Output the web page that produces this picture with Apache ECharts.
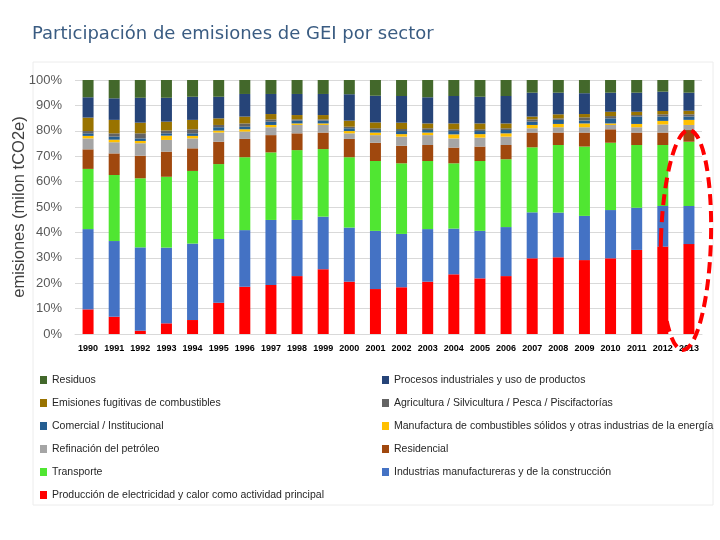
<!DOCTYPE html>
<html>
<head>
<meta charset="utf-8">
<script src="https://cdn.jsdelivr.net/npm/echarts@6/dist/echarts.min.js"></script>
<style>html,body{margin:0;padding:0;background:#fff;}#c{width:720px;height:540px;}</style>
</head>
<body>
<div id="c"></div>
<script>
var years = ['1990','1991','1992','1993','1994','1995','1996','1997','1998','1999','2000','2001','2002','2003','2004','2005','2006','2007','2008','2009','2010','2011','2012','2013'];
var yTicks = [0,10,20,30,40,50,60,70,80,90,100];

// Segment shares (%) per year, bottom to top of each stack
var produccion   = [9.7,6.8,1.3,4.2,5.5,12.3,18.6,19.3,22.8,25.5,20.6,17.7,18.4,20.6,23.5,21.9,22.8,29.8,30.2,29.1,29.8,33.1,34.4,35.4];
var industrias   = [31.6,29.8,32.8,29.8,30.1,25.1,22.3,25.6,22.1,20.7,21.3,22.9,21.0,20.7,18.0,18.7,19.3,18.1,17.6,17.4,19.0,16.6,16.0,15.0];
var transporte   = [23.7,26.0,27.2,27.9,28.6,29.5,28.7,26.6,27.5,26.6,27.7,27.5,27.8,26.8,25.7,27.5,26.7,25.6,26.6,27.3,26.5,24.7,24.0,25.3];
var residencial  = [7.7,8.5,8.9,9.9,8.9,8.8,7.2,6.8,6.6,6.5,7.2,7.2,6.9,6.3,6.2,5.7,5.6,5.8,4.9,5.5,5.3,4.9,4.9,4.6];
var refinacion   = [4.3,4.4,4.9,4.6,3.9,3.6,2.9,3.1,3.3,3.0,2.2,3.0,3.6,3.9,3.6,3.5,3.3,1.7,2.1,2.1,1.7,2.1,3.2,2.0];
var manufactura  = [1.0,1.0,0.9,1.7,1.0,0.8,0.9,0.9,0.6,0.6,0.9,1.0,1.0,1.0,1.6,1.4,1.3,1.3,1.3,1.5,0.6,1.3,1.4,2.0];
var comercial    = [1.0,1.2,1.0,0.9,1.0,1.3,1.0,1.3,1.1,1.1,1.1,1.0,1.2,1.0,1.3,1.2,1.3,1.3,1.6,1.1,2.0,2.9,1.7,1.3];
var agricultura  = [0.9,1.3,2.0,1.1,1.6,0.9,1.3,0.9,0.5,0.5,0.6,0.7,0.8,0.7,0.7,0.7,0.7,0.9,0.6,1.3,0.9,0.6,0.9,0.9];
var fugitivas    = [5.3,5.3,4.2,3.5,3.7,2.6,2.7,2.1,1.7,1.7,2.4,2.3,2.5,1.9,2.3,2.3,1.9,1.1,1.6,1.3,1.7,1.3,1.3,1.4];
var procesos     = [8.0,8.5,9.8,9.4,9.1,8.5,8.9,7.9,8.3,8.3,10.4,10.5,10.5,10.3,10.8,10.5,10.8,9.4,8.5,8.2,7.5,7.5,7.6,7.1];
var residuos     = [6.8,7.2,7.0,7.0,6.6,6.6,5.5,5.5,5.5,5.5,5.6,6.2,6.3,6.8,6.3,6.6,6.3,5.0,5.0,5.2,5.0,5.0,4.6,5.0];

var seriesDefs = [
  ['Producción de electricidad y calor como actividad principal', produccion, '#FF0000'],
  ['Industrias manufactureras y de la construcción', industrias, '#4472C4'],
  ['Transporte', transporte, '#50E632'],
  ['Residencial', residencial, '#A0480E'],
  ['Refinación del petróleo', refinacion, '#A5A5A5'],
  ['Manufactura de combustibles sólidos y otras industrias de la energía', manufactura, '#FFC000'],
  ['Comercial / Institucional', comercial, '#255E91'],
  ['Agricultura / Silvicultura / Pesca / Piscifactorías', agricultura, '#636363'],
  ['Emisiones fugitivas de combustibles', fugitivas, '#997300'],
  ['Procesos industriales y uso de productos', procesos, '#264478'],
  ['Residuos', residuos, '#43682B']
];

var legendLeft = ['Residuos','Emisiones fugitivas de combustibles','Comercial / Institucional','Refinación del petróleo','Transporte','Producción de electricidad y calor como actividad principal'];
var legendRight = ['Procesos industriales y uso de productos','Agricultura / Silvicultura / Pesca / Piscifactorías','Manufactura de combustibles sólidos y otras industrias de la energía','Residencial','Industrias manufactureras y de la construcción'];

var legendFont = {fontFamily:"'Liberation Sans', Arial, sans-serif", fontSize:10.5, color:'#262626', lineHeight:12};

var chart = echarts.init(document.getElementById('c'), null, {renderer:'canvas'});
var option = {
  animation:false,
  backgroundColor:'#ffffff',
  title:{
    text:'Participación de emisiones de GEI por sector',
    left:27, top:20,
    textStyle:{fontFamily:"'DejaVu Sans', Verdana, sans-serif", fontSize:18, fontWeight:'normal', color:'#3A5C82'}
  },
  grid:{left:75, right:18, top:80, bottom:206, containLabel:false, outerBoundsMode:'none'},
  legend:[
    {data:legendLeft, orient:'vertical', left:40, top:374, padding:0, itemWidth:7, itemHeight:8, itemGap:11, icon:'rect', selectedMode:false, textStyle:legendFont},
    {data:legendRight, orient:'vertical', left:382, top:374, padding:0, itemWidth:7, itemHeight:8, itemGap:11, icon:'rect', selectedMode:false, textStyle:legendFont}
  ],
  xAxis:{
    type:'category', data:years,
    axisLine:{lineStyle:{color:'#d9d9d9'}},
    axisTick:{show:false},
    axisLabel:{interval:0, margin:10, color:'#000', fontWeight:'bold', fontSize:9, fontFamily:"'Liberation Sans', Arial, sans-serif"}
  },
  yAxis:{
    type:'value', min:yTicks[0], max:yTicks[yTicks.length-1], interval:10,
    name:'emisiones (milon tCO2e)', nameLocation:'middle', nameGap:47, nameRotate:90, nameMoveOverlap:false,
    nameTextStyle:{fontFamily:"'Liberation Sans', Arial, sans-serif", fontSize:16.5, color:'#404040'},
    axisLine:{show:false}, axisTick:{show:false},
    axisLabel:{formatter:'{value}%', color:'#595959', fontSize:13, margin:13, fontFamily:"'Liberation Sans', Arial, sans-serif"},
    splitLine:{lineStyle:{color:'#d9d9d9'}}
  },
  series: seriesDefs.map(function(d){
    return {name:d[0], type:'bar', stack:'total', data:d[1], barWidth:11, itemStyle:{color:d[2]}};
  })
};
chart.setOption(option);

var c = chart.convertToPixel({xAxisIndex:0, yAxisIndex:0}, ['2013', 37]);
chart.setOption({
  graphic:[
    {type:'rect', silent:true, z:-1, shape:{x:33, y:62, width:680, height:443}, style:{fill:'none', stroke:'#ececec', lineWidth:1}},
    {type:'ellipse', silent:true, z:100, rotation:-0.03, x:c[0]-3, y:c[1],
     shape:{cx:0, cy:0, rx:25, ry:110},
     style:{fill:'none', stroke:'#FF0000', lineWidth:4, lineDash:[11,6]}}
  ]
});
</script>
</body>
</html>
